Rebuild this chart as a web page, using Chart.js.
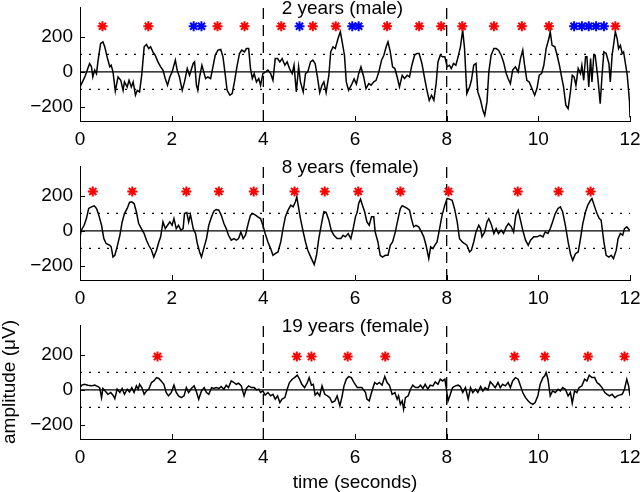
<!DOCTYPE html>
<html lang="en">
<head>
<meta charset="UTF-8">
<title>EEG amplitude by age</title>
<script src="https://cdn.jsdelivr.net/npm/chart.js"></script>
<style>
  body { margin: 0; background: #fff; }
  .panel { position: absolute; left: 0; width: 640px; }
</style>
</head>
<body>
<div class="panel" style="top:0px;height:150px"><canvas id="c1" width="640" height="150"></canvas></div>
<div class="panel" style="top:150px;height:160px"><canvas id="c2" width="640" height="160"></canvas></div>
<div class="panel" style="top:310px;height:182px"><canvas id="c3" width="640" height="182"></canvas></div>
<script>
// axes
const xTicks = [0, 2, 4, 6, 8, 10, 12];
const yTicks = [-200, 0, 200];
const yMin = -280, yMax = 370;
const epochMarks = [4, 8];       // dashed verticals
const thresholds = [-100, 100];  // dotted horizontals

// 2 years (male)
const t1 = [
  0, 0.07, 0.12, 0.17, 0.21, 0.25, 0.28, 0.32, 0.36, 0.39,
  0.45, 0.50, 0.54, 0.60, 0.65, 0.68, 0.72, 0.77, 0.83, 0.89,
  0.94, 0.97, 1.03, 1.07, 1.12, 1.16, 1.21, 1.25, 1.30, 1.35,
  1.40, 1.45, 1.50, 1.54, 1.59, 1.64, 1.70, 1.76, 1.81, 1.86,
  1.91, 1.96, 2.01, 2.08, 2.12, 2.17, 2.23, 2.28, 2.34, 2.39,
  2.47, 2.50, 2.54, 2.57, 2.61, 2.66, 2.71, 2.74, 2.79, 2.85,
  2.90, 2.95, 3.01, 3.07, 3.12, 3.17, 3.21, 3.27, 3.32, 3.37,
  3.43, 3.48, 3.53, 3.59, 3.63, 3.68, 3.72, 3.76, 3.80, 3.85,
  3.90, 3.94, 3.99, 4.05, 4.10, 4.16, 4.21, 4.26, 4.31, 4.36,
  4.41, 4.47, 4.52, 4.57, 4.63, 4.67, 4.72, 4.77, 4.81, 4.87,
  4.92, 4.97, 5.03, 5.08, 5.13, 5.18, 5.23, 5.28, 5.32, 5.37,
  5.43, 5.47, 5.52, 5.57, 5.63, 5.68, 5.72, 5.77, 5.81, 5.86,
  5.92, 5.98, 6.03, 6.08, 6.13, 6.19, 6.24, 6.30,
  6.35, 6.41, 6.46, 6.52, 6.58, 6.63, 6.68, 6.72, 6.77, 6.82,
  6.87, 6.92, 6.97, 7.03, 7.08, 7.14, 7.19, 7.24, 7.30, 7.35,
  7.40, 7.46, 7.52, 7.57, 7.62, 7.67, 7.72, 7.77, 7.81, 7.86,
  7.91, 7.96, 8.01, 8.06, 8.10, 8.15, 8.20, 8.25, 8.30, 8.35,
  8.39, 8.44, 8.50, 8.54, 8.59, 8.64, 8.68, 8.74, 8.79, 8.83,
  8.88, 8.92, 8.97, 9.03, 9.08, 9.13, 9.19, 9.24, 9.30, 9.34,
  9.39, 9.44, 9.50, 9.56, 9.61, 9.66, 9.70, 9.75, 9.80, 9.86,
  9.92, 9.97, 10.02, 10.07, 10.12, 10.17, 10.23, 10.26, 10.30, 10.36,
  10.41, 10.46, 10.50, 10.55, 10.60, 10.65, 10.70, 10.74, 10.78, 10.82,
  10.87, 10.92, 10.95, 10.99, 11.03, 11.06, 11.10, 11.14, 11.17, 11.21,
  11.24, 11.30, 11.35, 11.39, 11.43, 11.48, 11.54, 11.57, 11.61, 11.64,
  11.68, 11.72, 11.75, 11.79, 11.83, 11.86, 11.90, 11.94, 11.99, 12.00
];
const amp1 = [
  -85, -48, -19, 19, 48, 29, -29, 10, -10, 57,
  162, 171, 143, 76, 29, 38, 0, -110, -29, -48,
  -105, -57, -86, -48, -86, -57, -133, -105, -114, -10,
  143, 156, 133, 143, 114, 95, 57, 29, 10, -38,
  -76, -29, 0, 67, 10, -29, -105, -57, 19, -19,
  48, 57, -76, -105, -29, 38, -10, -38, -29, -38,
  29, 95, 124, 128, 86, -19, -105, -133, -124, -57,
  38, 105, 124, 114, 133, 133, 19, -38, -10, -57,
  -38, -76, -10, 0, 10, -10, -48, 76, 76, 57,
  76, 38, 57, 19, -10, 38, -114, 29, -57, -114,
  -10, 0, 57, 67, 48, -29, -118, -76, -57, -118,
  -19, 114, 143, 133, 190, 229, 171, 95, -57, -105,
  -76, -40, -70, -10, 29, -29, -95, -67,
  -76, -57, -48, 0, 67, 95, 143, 171, 114, 29,
  19, -29, -86, -19, -38, -19, -29, 38, 95, 105,
  105, 48, -38, -105, -162, -133, -162, -67, 57, 95,
  86, 86, 29, 38, 19, 48, 38, 86, 143, 238,
  133, -124, -86, -48, 38, 48, -114, -162, -219, -248,
  -171, 0, 95, 133, 133, 124, 95, 57, -10, -38,
  -67, 10, 29, 0, 76, 124, 38, -48, -57, -95,
  -133, -95, -19, -10, 38, 133, 190, 229, 152, 143,
  95, 38, -19, -86, -190, -210, -114, -19, -29, -76,
  19, -10, 38, -48, 86, 86, -86, 76, -57, 95,
  95, -38, -181, -19, 114, 105, 48, -57, 95, 152,
  229, 190, 133, 152, 105, 114, 48, -19, -171, -260
];
const red1 = [0.49, 1.49, 3.00, 3.59, 4.39, 5.08, 5.58, 6.70, 7.40, 7.88, 8.34, 9.03, 9.64, 10.23, 11.68];
const blue1 = [2.48, 2.65, 4.79, 5.94, 6.08, 10.78, 10.95, 11.10, 11.26, 11.43];
const star1 = 260;

// 8 years (female)
const t2 = [
  0, 0.03, 0.09, 0.14, 0.19, 0.25, 0.31, 0.36, 0.41, 0.47,
  0.52, 0.57, 0.65, 0.68, 0.72, 0.76, 0.81, 0.87, 0.92, 0.97,
  1.03, 1.08, 1.13, 1.18, 1.23, 1.28, 1.34, 1.40, 1.45, 1.50,
  1.56, 1.61, 1.67, 1.72, 1.76, 1.81, 1.86, 1.91, 1.96, 2.01,
  2.05, 2.10, 2.15, 2.20, 2.25, 2.28, 2.33, 2.37, 2.41, 2.47,
  2.52, 2.56, 2.61, 2.65, 2.71, 2.76, 2.81, 2.87, 2.92, 2.97,
  3.03, 3.08, 3.14, 3.19, 3.24, 3.30, 3.36, 3.41, 3.46, 3.51,
  3.56, 3.61, 3.67, 3.72, 3.77, 3.83, 3.88, 3.94, 3.99, 4.04,
  4.10, 4.16, 4.21, 4.26, 4.32, 4.38, 4.43, 4.48, 4.54, 4.60,
  4.65, 4.70, 4.73, 4.76, 4.81, 4.87, 4.92, 4.97, 5.05, 5.11,
  5.16, 5.21, 5.27, 5.32, 5.37, 5.43, 5.48, 5.54, 5.61, 5.69,
  5.74, 5.79, 5.85, 5.91, 5.96, 6.01, 6.05, 6.08, 6.12, 6.15,
  6.21, 6.26, 6.31, 6.36, 6.41, 6.44, 6.50, 6.55, 6.60, 6.66,
  6.72, 6.77, 6.82, 6.88, 6.94, 6.99, 7.03, 7.08, 7.14, 7.19,
  7.23, 7.28, 7.33, 7.39, 7.45, 7.50, 7.55, 7.61, 7.65, 7.70,
  7.74, 7.79, 7.84, 7.90, 7.96, 8.01, 8.06, 8.12, 8.17, 8.23,
  8.28, 8.34, 8.39, 8.44, 8.50, 8.54, 8.59, 8.64, 8.70, 8.74,
  8.77, 8.83, 8.88, 8.92, 8.98, 9.03, 9.08, 9.13, 9.19, 9.24,
  9.30, 9.35, 9.41, 9.46, 9.51, 9.56, 9.61, 9.66, 9.72, 9.78,
  9.83, 9.90, 9.97, 10.04, 10.10, 10.15, 10.21, 10.26, 10.31, 10.37,
  10.43, 10.48, 10.53, 10.59, 10.65, 10.70, 10.75, 10.81, 10.87, 10.92,
  10.97, 11.03, 11.08, 11.14, 11.17, 11.23, 11.28, 11.33, 11.37, 11.43,
  11.48, 11.54, 11.59, 11.64, 11.70, 11.74, 11.79, 11.84, 11.88, 11.93,
  11.99
];
const amp2 = [
  -34, 4, 32, 70, 128, 137, 143, 128, 90, 32,
  -44, -72, -82, -91, -149, -139, -91, -25, 51, 99,
  128, 162, 166, 156, 109, 42, 13, -15, -53, -82,
  -110, -149, -110, -63, -34, 51, 13, 32, 51, 32,
  70, 13, 32, 4, 13, 99, 105, 51, 93, 13,
  -15, -72, -120, -149, -91, -44, 32, 80, 112, 122,
  118, 90, 42, 13, -25, -53, -44, -53, -44, -6,
  -44, -25, 42, 90, 99, 90, 80, 70, 32, -15,
  -63, -101, -139, -130, -120, -63, 13, 80, 118, 147,
  137, 166, 194, 147, 70, -6, -63, -110, -158, -192,
  -139, -44, 42, 109, 105, 61, 4, -25, -44, -44,
  -25, -34, -15, -44, 13, 80, 109, 156, 181, 156,
  109, 51, 32, 80, 80, -6, -63, -139, -149, -139,
  -139, -82, -63, -6, 70, 128, 143, 137, 128, 118,
  70, 23, 32, 23, -6, -34, -82, -158, -91, -101,
  -82, -63, 4, 90, 147, 185, 181, 175, 128, 51,
  -44, -63, -72, -82, -120, -110, -63, -6, 32, 13,
  -34, -6, 51, 70, 32, -15, 13, -15, 4, -15,
  23, 42, 23, -6, 90, 118, 61, 4, -53, -82,
  -53, -34, -34, -25, -34, -6, -15, 13, 51, 99,
  128, 137, 109, 32, -63, -130, -168, -130, -120, -44,
  42, 109, 147, 175, 185, 137, 99, 70, 61, -63,
  -139, -149, -139, -158, -110, -44, -15, -25, 13, 23,
  4
];
const red2 = [0.28, 1.14, 2.32, 3.03, 3.79, 4.68, 5.34, 6.07, 6.99, 8.04, 9.55, 10.44, 11.14];
const blue2 = [];
const star2 = 225;

// 19 years (female)
const t3 = [
  0, 0.04, 0.10, 0.17, 0.25, 0.32, 0.39, 0.43, 0.47, 0.50,
  0.55, 0.61, 0.67, 0.72, 0.76, 0.81, 0.87, 0.92, 0.97, 1.03,
  1.08, 1.13, 1.18, 1.23, 1.27, 1.30, 1.35, 1.40, 1.45, 1.50,
  1.56, 1.61, 1.67, 1.72, 1.77, 1.83, 1.88, 1.93, 1.99, 2.05,
  2.10, 2.15, 2.21, 2.27, 2.32, 2.37, 2.43, 2.49, 2.54, 2.59,
  2.65, 2.71, 2.76, 2.81, 2.87, 2.92, 2.97, 3.03, 3.08, 3.14,
  3.19, 3.24, 3.30, 3.36, 3.41, 3.46, 3.52, 3.58, 3.63, 3.68,
  3.74, 3.80, 3.85, 3.90, 3.94, 3.99, 4.04, 4.10, 4.16, 4.21,
  4.26, 4.31, 4.36, 4.41, 4.47, 4.52, 4.57, 4.63, 4.68, 4.74,
  4.79, 4.84, 4.90, 4.96, 5.00, 5.05, 5.09, 5.13, 5.18, 5.23,
  5.28, 5.34, 5.40, 5.45, 5.50, 5.56, 5.61, 5.67, 5.72, 5.76,
  5.81, 5.86, 5.92, 5.98, 6.05, 6.08, 6.15, 6.23, 6.26, 6.31,
  6.37, 6.43, 6.48, 6.53, 6.59, 6.65, 6.70, 6.75, 6.81, 6.87,
  6.92, 6.95, 6.99, 7.03, 7.06, 7.10, 7.16, 7.21, 7.26, 7.32,
  7.38, 7.43, 7.48, 7.53, 7.59, 7.64, 7.70, 7.75, 7.81, 7.86,
  7.91, 7.96, 7.99, 8.03, 8.08, 8.13, 8.19, 8.25, 8.30, 8.35,
  8.41, 8.47, 8.52, 8.57, 8.63, 8.68, 8.74, 8.79, 8.84, 8.90,
  8.95, 9.00, 9.06, 9.12, 9.17, 9.22, 9.28, 9.34, 9.39, 9.44,
  9.50, 9.56, 9.61, 9.66, 9.72, 9.78, 9.83, 9.88, 9.93, 9.99,
  10.04, 10.10, 10.14, 10.17, 10.21, 10.26, 10.31, 10.37, 10.43, 10.48,
  10.53, 10.59, 10.65, 10.70, 10.74, 10.79, 10.84, 10.89, 10.95, 11.01,
  11.06, 11.11, 11.17, 11.23, 11.28, 11.33, 11.39, 11.45, 11.50, 11.55,
  11.61, 11.67, 11.72, 11.77, 11.83, 11.88, 11.93, 11.97, 12.00
];
const amp3 = [
  13, 27, 32, 27, 23, 27, 19, 13, -44, 8,
  -6, -25, -15, -30, -50, 4, -15, 8, -25, 4,
  -11, 13, -15, 23, 4, 32, 13, -25, -6, 4,
  42, 51, 70, 65, 51, 32, -15, -34, -15, 27,
  -15, -34, -44, -34, 13, -15, 8, 23, -11, -53,
  -6, 13, -15, -25, 13, 8, 13, 8, 19, 4,
  27, 13, 51, 42, 32, 38, 23, -34, 8, 23,
  13, 13, 0, 4, -15, -6, -30, -15, -34, -25,
  -53, -34, -72, -53, -44, 4, 42, 61, 70, 84,
  61, 32, 13, 42, 70, 27, 32, -30, -15, -34,
  23, -25, -34, -44, -72, -63, -34, -91, -34, 23,
  61, 76, 70, 42, 13, 13, 13, -15, -53, -63,
  -6, 42, 32, 42, 27, 76, 42, 27, -25, -15,
  -53, -34, -82, -63, -110, -44, -34, 4, 27, 13,
  13, 27, 8, 32, 4, 27, 23, 46, 32, 61,
  51, 61, 13, -63, -25, 13, 23, 27, 19, -15,
  13, -53, 13, -15, 4, -15, 19, -6, 13, 0,
  46, 32, 13, 42, 13, 32, 23, 42, 13, 51,
  70, 61, 23, -15, -44, -63, -76, -82, -72, -34,
  32, 70, 80, 99, 61, -34, -6, -15, 4, -6,
  13, 4, -34, -15, -76, -6, -15, 13, 23, 61,
  51, 84, 70, 70, 42, 32, 13, -15, -25, -34,
  -25, -44, -34, -30, -25, 4, 61, 23, -34
];
const red3 = [1.69, 4.73, 5.05, 5.84, 6.66, 9.48, 10.14, 11.08, 11.88];
const blue3 = [];
const star3 = 190;

Chart.defaults.font.family = '"Liberation Sans", Arial, Helvetica, sans-serif';
Chart.defaults.font.size = 19;
Chart.defaults.color = '#000';

// inward ticks (matlab style) + panel title
const panelDecor = {
  id: 'panelDecor',
  afterDatasetsDraw(chart, args, opts) {
    const { ctx, chartArea: area, scales: { x, y } } = chart;
    ctx.save();
    ctx.strokeStyle = '#000';
    ctx.lineWidth = 1;
    ctx.beginPath();
    xTicks.forEach(v => {
      const px = Math.round(x.getPixelForValue(v)) + 0.5;
      ctx.moveTo(px, area.bottom);
      ctx.lineTo(px, area.bottom - 5);
    });
    yTicks.forEach(v => {
      const py = Math.round(y.getPixelForValue(v)) + 0.5;
      ctx.moveTo(area.left, py);
      ctx.lineTo(area.left + 5, py);
    });
    ctx.stroke();
    ctx.fillStyle = '#000';
    ctx.font = '19px "Liberation Sans", Arial, sans-serif';
    ctx.textAlign = 'left';
    ctx.textBaseline = 'alphabetic';
    ctx.fillText(opts.title, x.getPixelForValue(opts.titleAt), area.top + 6.5);
    ctx.restore();
  }
};

function makePanel(id, cfg) {
  const line = (pts, extra) => Object.assign({
    data: pts, showLine: true, borderColor: '#000', borderWidth: 1.3,
    pointRadius: 0, pointHoverRadius: 0, fill: false
  }, extra);
  const stars = (times, color) => ({
    data: times.map(x => ({ x, y: cfg.starLevel })),
    showLine: false, pointStyle: 'star', pointRadius: 5,
    borderWidth: 2, pointBorderWidth: 2,
    borderColor: color, backgroundColor: color
  });

  const datasets = [
    stars(cfg.red, '#ff0000'),
    stars(cfg.blue, '#0000ff'),
    line(cfg.t.map((x, i) => ({ x, y: cfg.amp[i] })), { borderWidth: 1.5 }),
    line([{ x: 0, y: 0 }, { x: 12, y: 0 }], {}),
    ...thresholds.map(v => line([{ x: 0, y: v }, { x: 12, y: v }], { borderDash: [2, 7] })),
    ...epochMarks.map(v => line([{ x: v, y: yMin }, { x: v, y: yMax }], { borderDash: [11, 6] }))
  ];

  return new Chart(document.getElementById(id), {
    type: 'scatter',
    data: { datasets },
    plugins: [panelDecor],
    options: {
      responsive: false,
      animation: false,
      devicePixelRatio: 1,
      events: [],
      layout: { padding: { left: 0, right: 10, top: cfg.padTop, bottom: 0 } },
      plugins: {
        legend: { display: false },
        tooltip: { enabled: false },
        panelDecor: { title: cfg.title, titleAt: 4.4 }
      },
      scales: {
        x: {
          type: 'linear', min: 0, max: 12,
          grid: { display: false, drawTicks: false },
          border: { display: true, color: '#000', width: 1 },
          ticks: { padding: 7, maxRotation: 0, autoSkip: false },
          afterBuildTicks: s => { s.ticks = xTicks.map(value => ({ value })); },
          afterFit: s => { s.height = cfg.xAxisHeight; s.paddingLeft = 0; s.paddingRight = 0; },
          title: {
            display: !!cfg.xTitle, text: cfg.xTitle || '',
            font: { size: 19, lineHeight: 1 }, padding: { top: 0, bottom: 0 }
          }
        },
        y: {
          type: 'linear', min: yMin, max: yMax,
          grid: { display: false, drawTicks: false },
          border: { display: true, color: '#000', width: 1 },
          ticks: { padding: 7, callback: v => v < 0 ? '\u2212' + (-v) : String(v) },
          afterBuildTicks: s => { s.ticks = yTicks.map(value => ({ value })); },
          afterFit: s => { s.width = 80; s.paddingTop = 0; s.paddingBottom = 0; },
          title: {
            display: !!cfg.yTitle, text: cfg.yTitle || '',
            font: { size: 19, lineHeight: 1 }, padding: { top: 0, bottom: 0 }
          }
        }
      }
    }
  });
}

makePanel('c1', { t: t1, amp: amp1, red: red1, blue: blue1, starLevel: star1,
  title: '2 years (male)', padTop: 7, xAxisHeight: 29 });
makePanel('c2', { t: t2, amp: amp2, red: red2, blue: blue2, starLevel: star2,
  title: '8 years (female)', padTop: 16, xAxisHeight: 30 });
makePanel('c3', { t: t3, amp: amp3, red: red3, blue: blue3, starLevel: star3,
  title: '19 years (female)', padTop: 15, xAxisHeight: 53,
  xTitle: 'time (seconds)', yTitle: 'amplitude (\u03bcV)' });
</script>
</body>
</html>
